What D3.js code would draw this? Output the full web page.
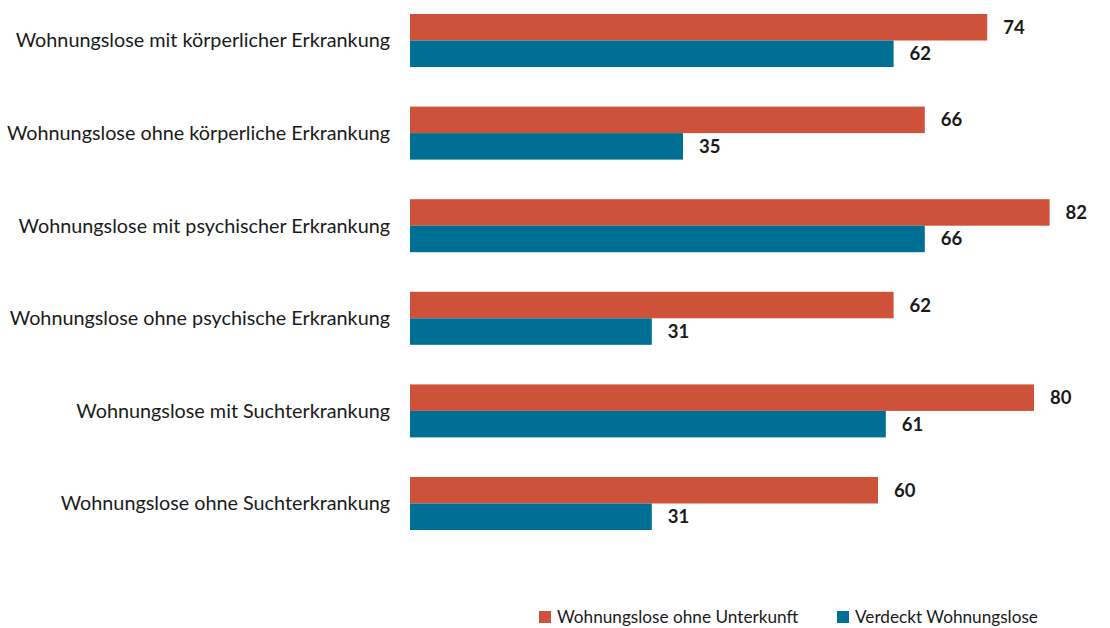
<!DOCTYPE html>
<meta charset="utf-8">
<html>
<head>
    <script src="https://d3js.org/d3.v7.min.js"></script>
    <style>
        body { margin: 0; background: #fff; }
        text { font-family: Lato, "Liberation Sans", sans-serif; fill: #1a1a1a; }
    </style>
</head>
<body>
    <div id="chart"></div>
    <script>
        // categories and series
        var categories = [
            "Wohnungslose mit körperlicher Erkrankung",
            "Wohnungslose ohne körperliche Erkrankung",
            "Wohnungslose mit psychischer Erkrankung",
            "Wohnungslose ohne psychische Erkrankung",
            "Wohnungslose mit Suchterkrankung",
            "Wohnungslose ohne Suchterkrankung"
        ];
        var seriesNames = ["Wohnungslose ohne Unterkunft", "Verdeckt Wohnungslose"];
        var ohneUnterkunft = [74, 66, 82, 62, 80, 60];
        var verdeckt = [62, 35, 66, 31, 61, 31];
        var colors = ["#CE523A", "#006F94"];

        var width = 1110, height = 628;

        var svg = d3.select("#chart")
            .append("svg")
            .attr("width", width)
            .attr("height", height);

        var x = d3.scaleLinear()
            .domain([0, 100])
            .range([410, 1190]);

        var y0 = d3.scaleBand()
            .domain(categories)
            .range([-5.8, 549.8]);

        var groupH = 53;
        var y1 = d3.scaleBand()
            .domain(seriesNames)
            .range([0, groupH]);

        var rows = categories.map(function (c, i) {
            return { cat: c, values: [ohneUnterkunft[i], verdeckt[i]] };
        });

        var g = svg.selectAll(".group")
            .data(rows)
            .enter()
            .append("g")
            .attr("transform", function (d) {
                return "translate(0," + (y0(d.cat) + (y0.bandwidth() - groupH) / 2) + ")";
            });

        g.selectAll("rect")
            .data(function (d) { return d.values.map(function (v, j) { return { s: seriesNames[j], v: v, j: j }; }); })
            .enter()
            .append("rect")
            .attr("x", x(0))
            .attr("y", function (d) { return y1(d.s); })
            .attr("width", function (d) { return x(d.v) - x(0); })
            .attr("height", y1.bandwidth())
            .attr("fill", function (d) { return colors[d.j]; });

        g.selectAll(".val")
            .data(function (d) { return d.values.map(function (v, j) { return { s: seriesNames[j], v: v }; }); })
            .enter()
            .append("text")
            .attr("x", function (d) { return x(d.v) + 16; })
            .attr("y", function (d) { return y1(d.s) + y1.bandwidth() / 2; })
            .attr("dy", "0.35em")
            .style("font-size", "18.5px")
            .style("font-weight", "bold")
            .text(function (d) { return d.v; });

        // category labels
        g.append("text")
            .attr("x", 390)
            .attr("y", groupH / 2)
            .attr("dy", "0.35em")
            .attr("text-anchor", "end")
            .style("font-size", "19.8px")
            .text(function (d) { return d.cat; });

        // legend
        var legendX = [539, 837];
        var leg = svg.selectAll(".legend")
            .data(seriesNames)
            .enter()
            .append("g")
            .attr("transform", function (d, i) { return "translate(" + legendX[i] + ",611)"; });

        leg.append("rect")
            .attr("width", 12)
            .attr("height", 12)
            .attr("fill", function (d, i) { return colors[i]; });

        leg.append("text")
            .attr("x", 18)
            .attr("y", 6)
            .attr("dy", "0.35em")
            .style("font-size", "17.2px")
            .text(function (d) { return d; });
    </script>
</body>
</html>
